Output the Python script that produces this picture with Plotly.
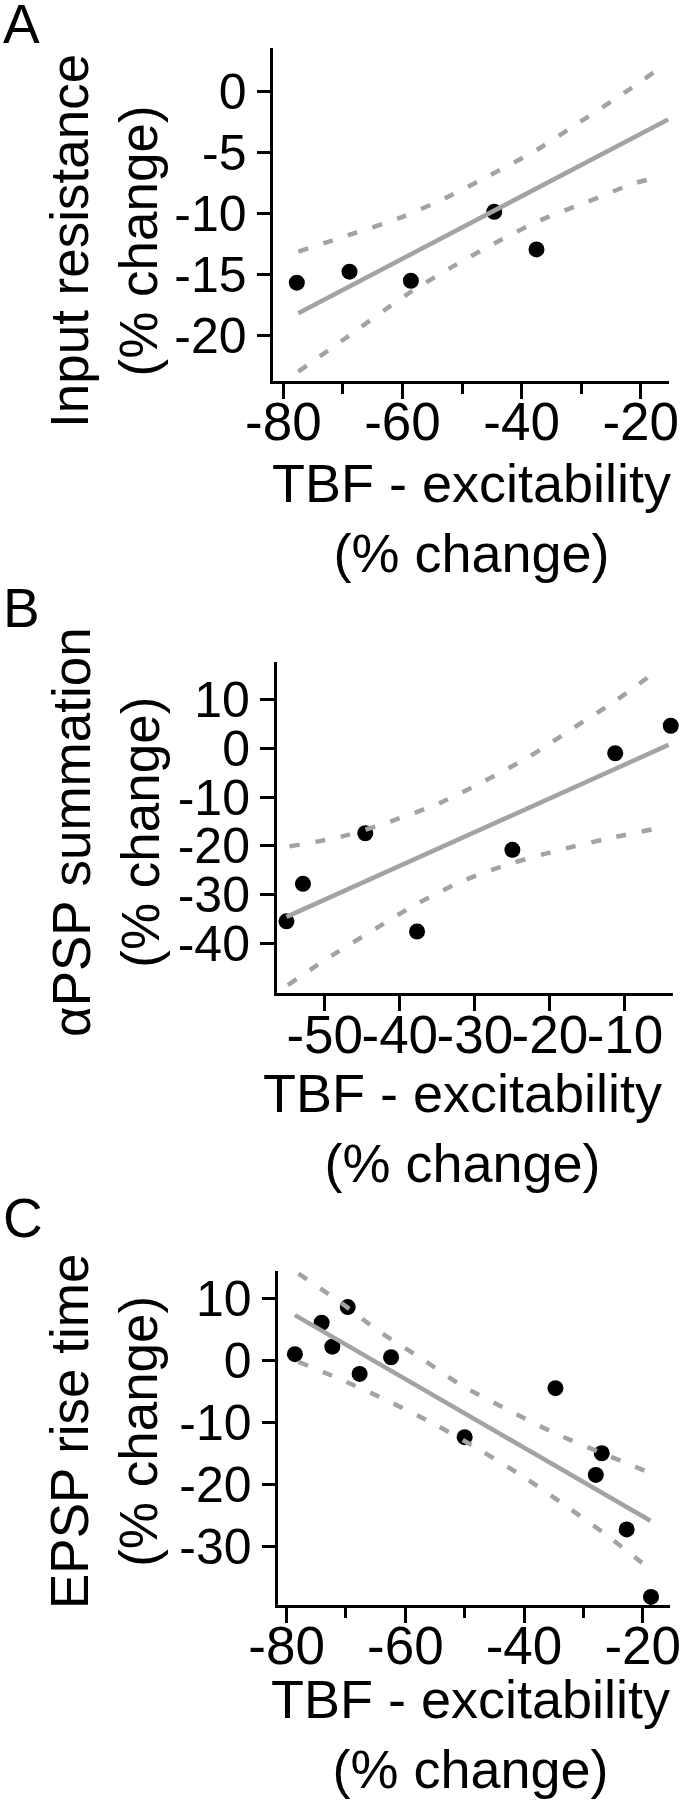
import plotly.graph_objects as go

W, H = 680, 1800
FONT = "Liberation Sans, Arial, Helvetica, sans-serif"
GRAY = "#a3a3a3"

# ---------------- Panel A: Input resistance ----------------
a_x = [-77.75, -68.9, -58.6, -44.6, -37.5]
a_y = [-15.64, -14.74, -15.48, -9.83, -12.91]
a_fit_x = [-77.5, -15.4]
a_fit_y = [-18.15, -2.26]
a_up_x = [-77.5, -69.1, -60.7, -52.9, -45.3, -37.5, -30.2, -22.9, -15.7]
a_up_y = [-13.1, -11.74, -10.37, -8.73, -6.82, -4.77, -2.46, -0.13, 2.33]
a_lo_x = [-77.5, -70.0, -59.4, -52.1, -44.6, -36.8, -28.9, -21.1, -16.7]
a_lo_y = [-22.93, -20.34, -16.65, -14.47, -12.42, -10.51, -9.0, -7.5, -6.96]
a_xticks = [-80, -60, -40, -20]
a_yticks = [0, -5, -10, -15, -20]

# ---------------- Panel B: alphaPSP summation ----------------
b_x = [-55.1, -52.9, -44.6, -37.7, -25.0, -11.3, -3.9]
b_y = [-35.5, -27.8, -17.4, -37.6, -20.8, -0.95, 4.7]
b_fit_x = [-55.1, -4.2]
b_fit_y = [-34.6, 0.76]
b_up_x = [-54.7, -47.8, -41.3, -34.7, -28.9, -22.7, -16.9, -11.1, -5.6]
b_up_y = [-20.1, -18.1, -15.0, -11.2, -6.8, -1.6, 4.2, 10.0, 16.2]
b_lo_x = [-54.9, -48.9, -43.1, -37.6, -31.3, -24.9, -18.6, -12.0, -4.4]
b_lo_y = [-48.6, -42.4, -36.9, -31.8, -27.0, -23.5, -20.8, -18.4, -16.0]
b_xticks = [-50, -40, -30, -20, -10]
b_yticks = [10, 0, -10, -20, -30, -40]

# ---------------- Panel C: EPSP rise time ----------------
c_x = [-78.6, -74.1, -72.3, -69.7, -67.7, -62.4, -50.0, -34.7, -26.9, -27.9, -22.7, -18.6]
c_y = [1.0, 6.06, 2.2, 8.6, -2.2, 0.5, -12.4, -4.5, -15.0, -18.5, -27.3, -38.2]
c_fit_x = [-78.6, -18.7]
c_fit_y = [7.3, -25.9]
c_up_x = [-78.0, -70.7, -64.3, -57.3, -50.6, -42.7, -35.2, -27.3, -19.2]
c_up_y = [14.0, 9.2, 4.6, 0.3, -4.0, -8.0, -11.6, -14.8, -18.0]
c_lo_x = [-78.0, -69.9, -62.6, -54.7, -47.4, -40.1, -33.1, -26.1, -19.2]
c_lo_y = [-0.24, -3.5, -6.7, -10.5, -14.5, -18.8, -23.4, -28.2, -33.4]
c_xticks = [-80, -60, -40, -20]
c_yticks = [10, 0, -10, -20, -30]

panel_letters = ["A", "B", "C"]
y_titles = ["Input resistance<br>(% change)",
            "\u03b1PSP summation<br>(% change)",
            "EPSP rise time<br>(% change)"]
x_title = "TBF - excitability<br>(% change)"

fig = go.Figure()

panels = [
    dict(x=a_x, y=a_y, fx=a_fit_x, fy=a_fit_y, ux=a_up_x, uy=a_up_y, lx=a_lo_x, ly=a_lo_y),
    dict(x=b_x, y=b_y, fx=b_fit_x, fy=b_fit_y, ux=b_up_x, uy=b_up_y, lx=b_lo_x, ly=b_lo_y),
    dict(x=c_x, y=c_y, fx=c_fit_x, fy=c_fit_y, ux=c_up_x, uy=c_up_y, lx=c_lo_x, ly=c_lo_y),
]

for i, p in enumerate(panels):
    xa = "x" if i == 0 else f"x{i+1}"
    ya = "y" if i == 0 else f"y{i+1}"
    fig.add_trace(go.Scatter(x=p["x"], y=p["y"], mode="markers", xaxis=xa, yaxis=ya,
                             marker=dict(color="black", size=16), showlegend=False,
                             cliponaxis=False))
    fig.add_trace(go.Scatter(x=p["fx"], y=p["fy"], mode="lines", xaxis=xa, yaxis=ya,
                             line=dict(color=GRAY, width=4.5), showlegend=False,
                             cliponaxis=False))
    for kx, ky in (("ux", "uy"), ("lx", "ly")):
        fig.add_trace(go.Scatter(x=p[kx], y=p[ky], mode="lines", xaxis=xa, yaxis=ya,
                                 line=dict(color=GRAY, width=4.5, dash="10px,16px",
                                           shape="spline", smoothing=0.8),
                                 showlegend=False, cliponaxis=False))

# domains in pixels (left, right, top, bottom)
px_dom = [(273.3, 669.0, 48.0, 381.0),
          (276.7, 673.0, 662.0, 993.3),
          (278.3, 670.0, 1270.5, 1605.0)]
x_ranges = [[-81.7, -15.25], [-56.4, -3.6], [-81.4, -15.4]]
y_ranges = [[-23.7, 3.6], [-50.3, 17.8], [-39.5, 14.5]]
x_ticks = [a_xticks, b_xticks, c_xticks]
y_ticks = [a_yticks, b_yticks, c_yticks]
minor = [True, False, True]

axis_common = dict(showgrid=False, zeroline=False, showline=True, linecolor="black",
                   linewidth=2.5, ticks="outside", tickcolor="black", tickwidth=2.5,
                   mirror=False, fixedrange=True, automargin=False,
                   ticklabeloverflow="allow")

layout = {}
for i in range(3):
    l, r, t, b = px_dom[i]
    xk = "xaxis" if i == 0 else f"xaxis{i+1}"
    yk = "yaxis" if i == 0 else f"yaxis{i+1}"
    xa_ref = "x" if i == 0 else f"x{i+1}"
    ya_ref = "y" if i == 0 else f"y{i+1}"
    xd = dict(axis_common, domain=[l / W, r / W], range=x_ranges[i], anchor=ya_ref,
              tickmode="array", tickvals=x_ticks[i], ticktext=[str(v) for v in x_ticks[i]],
              ticklen=15, tickangle=0, ticklabelstandoff=-22,
              tickfont=dict(family=FONT, size=53, color="black"))
    if minor[i]:
        xd["minor"] = dict(ticks="outside", tickmode="linear", tick0=-80, dtick=10,
                           ticklen=10, tickwidth=2.5, tickcolor="black")
    yd = dict(axis_common, domain=[1 - b / H, 1 - t / H], range=y_ranges[i], anchor=xa_ref,
              tickmode="array", tickvals=y_ticks[i], ticktext=[str(v) for v in y_ticks[i]],
              ticklen=14, tickfont=dict(family=FONT, size=50, color="black"))
    layout[xk] = xd
    layout[yk] = yd

annotations = []
letter_y = [24, 607.5, 1218]
ytitle_xc = [104, 106, 104]
ytitle_yc = [241, 832, 1432]
xtitle_xc = [471, 462, 470]
xtitle_yc = [518, 1128, 1734]
for i in range(3):
    annotations.append(dict(text=panel_letters[i], x=1 / W, y=1 - letter_y[i] / H,
                            xref="paper", yref="paper", xanchor="left", yanchor="middle",
                            showarrow=False, font=dict(family=FONT, size=55, color="black")))
    annotations.append(dict(text=y_titles[i], x=ytitle_xc[i] / W, y=1 - ytitle_yc[i] / H,
                            xref="paper", yref="paper", xanchor="center", yanchor="middle",
                            textangle=-90, showarrow=False,
                            font=dict(family=FONT, size=53, color="black")))
    annotations.append(dict(text=x_title, x=xtitle_xc[i] / W, y=1 - xtitle_yc[i] / H,
                            xref="paper", yref="paper", xanchor="center", yanchor="middle",
                            showarrow=False, font=dict(family=FONT, size=54, color="black")))

fig.update_layout(template="none", width=W, height=H, margin=dict(l=0, r=0, t=0, b=0, pad=0),
                  paper_bgcolor="white", plot_bgcolor="white",
                  showlegend=False, annotations=annotations, **layout)

fig.write_html("out.html", config={"displayModeBar": False},
               post_script="document.body.style.margin='0px';document.body.style.overflow='hidden';")
